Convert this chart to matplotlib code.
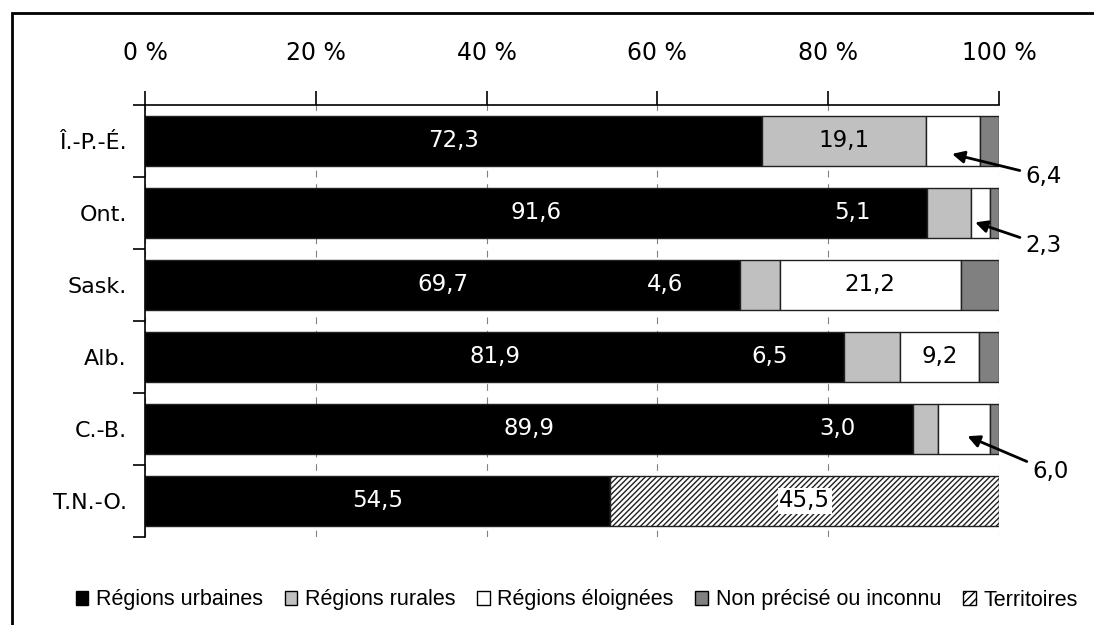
import numpy as np
import matplotlib.pyplot as plt
from matplotlib.patches import Patch, Rectangle

provinces = ['Î.-P.-É.', 'Ont.', 'Sask.', 'Alb.', 'C.-B.', 'T.N.-O.']
urbaines = [72.3, 91.6, 69.7, 81.9, 89.9, 54.5]
rurales = [19.1, 5.1, 4.6, 6.5, 3.0, 0.0]
eloignees = [6.4, 2.3, 21.2, 9.2, 6.0, 0.0]
inconnu = [2.2, 1.0, 4.5, 2.4, 1.1, 0.0]
territoires = [0.0, 0.0, 0.0, 0.0, 0.0, 45.5]

ticks = [0, 20, 40, 60, 80, 100]
tick_labels = ['0 %', '20 %', '40 %', '60 %', '80 %', '100 %']

legend_labels = ['Régions urbaines', 'Régions rurales', 'Régions éloignées',
                 'Non précisé ou inconnu', 'Territoires']


def fmt(v):
    return f'{v:.1f}'.replace('.', ',')


plt.rcParams['font.family'] = ['DejaVu Sans']
plt.rcParams['hatch.color'] = '#404040'
plt.rcParams['hatch.linewidth'] = 1.0

fig = plt.figure(figsize=(10.94, 6.25), dpi=100)
ax = fig.add_axes([0.1325, 0.1408, 0.7807, 0.6912])

y = np.arange(len(provinces))
h = 0.69
edge = dict(edgecolor='#202020', linewidth=1.0)

left = np.zeros(len(provinces))
ax.barh(y, urbaines, h, left=left, color='black', zorder=2, **edge)
left += urbaines
ax.barh(y, rurales, h, left=left, color='#C0C0C0', zorder=2, **edge)
left += rurales
ax.barh(y, eloignees, h, left=left, color='white', zorder=2, **edge)
left += eloignees
ax.barh(y, inconnu, h, left=left, color='#808080', zorder=2, **edge)
left += inconnu
ax.barh(y[-1:], territoires[-1:], h, left=urbaines[-1], color='white',
        hatch='//////', zorder=2, **edge)

fs = 16.5
# urban labels, centred
for i, v in enumerate(urbaines):
    ax.text(v / 2, i, fmt(v), color='white', ha='center', va='center', fontsize=fs, zorder=4)

# rural labels: centred for the first row, left of the small segments otherwise
for i in range(5):
    if i == 0:
        xpos = urbaines[i] + rurales[i] / 2
        col = 'black'
    else:
        xpos = urbaines[i] - 8.8
        col = 'white'
    ax.text(xpos, i, fmt(rurales[i]), color=col, ha='center', va='center',
            fontsize=fs, zorder=4)

# remote labels inside bars
for i in (2, 3):
    xc = urbaines[i] + rurales[i] + eloignees[i] / 2
    ax.text(xc, i, fmt(eloignees[i]), color='black', ha='center', va='center',
            fontsize=fs, zorder=4)

# remote labels with arrows
arrow_specs = [(0, 94.5, 0.18, 105.2, 0.49),
               (1, 97.2, 0.13, 105.2, 0.45),
               (4, 96.3, 0.10, 106.0, 0.59)]
for i, xt, yt, xl, yl in arrow_specs:
    ax.annotate(fmt(eloignees[i]), xy=(xt, i + yt), xytext=(xl, i + yl),
                ha='center', va='center', fontsize=fs, annotation_clip=False, zorder=5,
                arrowprops=dict(arrowstyle='-|>', color='black', lw=2,
                                mutation_scale=18, shrinkA=2, shrinkB=0))

# territoires label
ax.text(urbaines[-1] + territoires[-1] / 2, 5, fmt(territoires[-1]), ha='center', va='center',
        fontsize=fs, zorder=4,
        bbox=dict(facecolor='white', edgecolor='none', pad=1.0))

ax.set_xlim(0, 100)
ax.set_ylim(len(provinces) - 0.5, -0.5)
ax.xaxis.tick_top()
ax.set_xticks(ticks)
ax.set_xticklabels(tick_labels, fontsize=17)
ax.tick_params(axis='x', direction='out', length=10, width=1.2, pad=19)
ax.set_yticks(y)
ax.set_yticklabels(provinces, fontsize=16)
ax.set_yticks(np.arange(-0.5, len(provinces)), minor=True)
ax.tick_params(axis='y', which='major', length=0, pad=13)
ax.tick_params(axis='y', which='minor', direction='out', length=9, width=1.2)

ax.spines['right'].set_visible(False)
ax.spines['bottom'].set_visible(False)
ax.spines['top'].set_linewidth(1.2)
ax.spines['left'].set_linewidth(1.2)
ax.grid(axis='x', linestyle=(0, (6, 6)), color='#808080', linewidth=0.8, zorder=0)
ax.set_axisbelow(True)

handles = [Patch(facecolor='black', edgecolor='black'),
           Patch(facecolor='#C0C0C0', edgecolor='black'),
           Patch(facecolor='white', edgecolor='black'),
           Patch(facecolor='#808080', edgecolor='black'),
           Patch(facecolor='white', edgecolor='black', hatch='////')]
fig.legend(handles, legend_labels, loc='center', bbox_to_anchor=(0.527, 0.04), ncol=5,
           frameon=False, handlelength=0.6, handleheight=0.6, handletextpad=0.35,
           columnspacing=1.0,
           prop={'family': ['Liberation Sans Narrow', 'Liberation Sans'], 'size': 15.5})

fig.add_artist(Rectangle((12 / 1094, -0.2), 1.2, 1.2 - 13 / 625, transform=fig.transFigure,
                         fill=False, edgecolor='black', linewidth=2, clip_on=False))

fig.savefig('out.png', dpi=100)
